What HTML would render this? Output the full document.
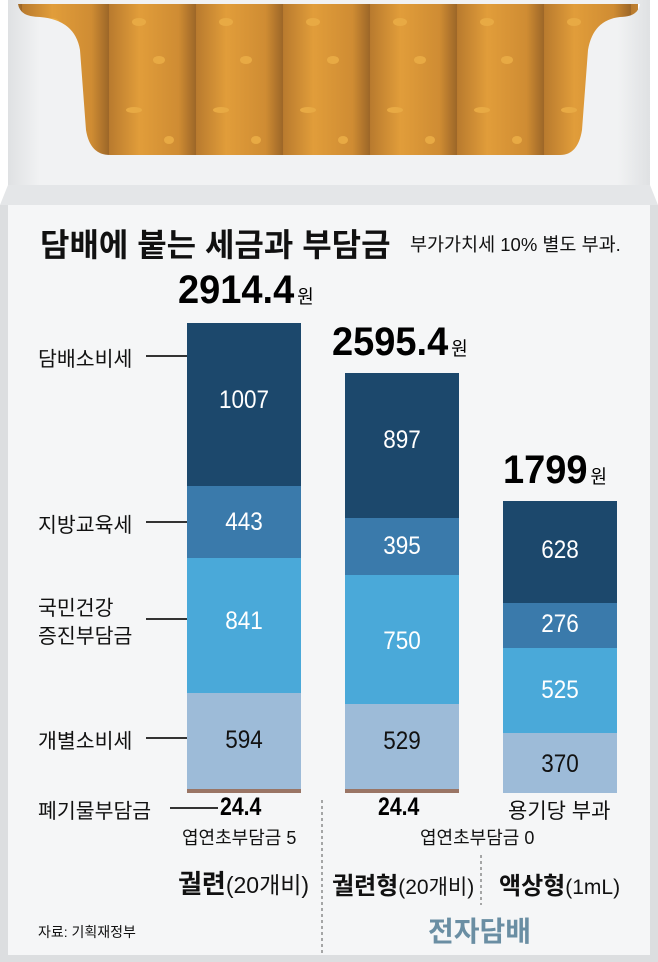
<!DOCTYPE html>
<html><head><meta charset="utf-8"><style>
body{margin:0;width:658px;height:962px;position:relative;overflow:hidden;background:#fff;font-family:"Liberation Sans","Noto Sans CJK KR",sans-serif}
.a{position:absolute;white-space:nowrap}
.bar{position:absolute;left:0;width:114px}
.v{position:absolute;width:114px;text-align:center;font-size:25px;transform:scaleX(.9)}
.lab{position:absolute;font-size:20.5px;color:#111}
.ln{position:absolute;height:1.5px;background:#333}
.tot{position:absolute;font-weight:bold;font-size:40px;transform:scaleX(.95);transform-origin:left;color:#000}
.tot span{font-size:19px;font-weight:normal;margin-left:3px}
</style></head><body>
<svg class="a" style="left:0;top:0" width="658" height="962">
<defs>
<linearGradient id="cg" x1="0" x2="1">
<stop offset="0" stop-color="#b87a2e"/><stop offset=".35" stop-color="#e19d3a"/><stop offset=".8" stop-color="#cf8c33"/><stop offset="1" stop-color="#9c6628"/>
</linearGradient>
<pattern id="cp" x="22" y="0" width="87" height="200" patternUnits="userSpaceOnUse"><rect width="87" height="200" fill="url(#cg)"/>
<ellipse cx="30" cy="22" rx="7" ry="4" fill="#e8aa44"/><ellipse cx="50" cy="60" rx="6" ry="4" fill="#e8aa44"/><ellipse cx="25" cy="110" rx="8" ry="3" fill="#e8aa44"/><ellipse cx="60" cy="140" rx="5" ry="4" fill="#e8aa44"/></pattern>
<linearGradient id="pk" x1="0" x2="1"><stop offset="0" stop-color="#dfe1e3"/><stop offset=".05" stop-color="#f1f2f3"/><stop offset=".95" stop-color="#f1f2f3"/><stop offset="1" stop-color="#dfe1e3"/></linearGradient>
</defs>
<rect x="18" y="3" width="620" height="160" fill="url(#cp)"/>
<path fill="url(#pk)" fill-rule="evenodd" d="M8 0H650V962H8Z M18 4 Q20 17 40 17 Q75 20 80 50 L86 130 Q90 155 110 155 H560 Q578 155 582 130 L588 50 Q593 20 620 17 Q638 17 640 4Z"/>
<rect x="0" y="205" width="658" height="757" fill="#f5f6f7"/>
<path d="M0 205 L8 185 H650 L658 205Z" fill="#e4e6e8"/>
<rect x="0" y="205" width="8" height="757" fill="#dcdee0"/><rect x="650" y="205" width="8" height="757" fill="#dcdee0"/>
<rect x="0" y="955" width="658" height="7" fill="#dcdee0"/>
<line x1="322" y1="800" x2="322" y2="955" stroke="#555" stroke-dasharray="3,3"/>
<line x1="481" y1="855" x2="481" y2="905" stroke="#555" stroke-dasharray="3,3"/>
</svg>
<div class="a" style="left:40px;top:220px;font-size:32px;font-weight:bold;color:#111">담배에 붙는 세금과 부담금</div>
<div class="a" style="left:410px;top:231px;font-size:18.5px;color:#111">부가가치세 10% 별도 부과.</div>

<div class="tot" style="left:178px;top:268px">2914.4<span>원</span></div>
<div class="tot" style="left:332px;top:320px">2595.4<span>원</span></div>
<div class="tot" style="left:503px;top:448px">1799<span>원</span></div>

<div class="a" style="left:187px;top:323px;width:114px;height:470px">
<div class="bar" style="top:0;height:163px;background:#1c486c"></div>
<div class="bar" style="top:163px;height:72px;background:#3a7aab"></div>
<div class="bar" style="top:235px;height:135px;background:#4aa9d9"></div>
<div class="bar" style="top:370px;height:96px;background:#9dbbd8"></div>
<div class="bar" style="top:466px;height:4px;background:#9a7565"></div>
<div class="v" style="top:63px;color:#fff">1007</div>
<div class="v" style="top:185px;color:#fff">443</div>
<div class="v" style="top:284px;color:#fff">841</div>
<div class="v" style="top:403px;color:#111">594</div>
</div>
<div class="a" style="left:345px;top:373px;width:114px;height:420px">
<div class="bar" style="top:0;height:145px;background:#1c486c"></div>
<div class="bar" style="top:145px;height:57px;background:#3a7aab"></div>
<div class="bar" style="top:202px;height:129px;background:#4aa9d9"></div>
<div class="bar" style="top:331px;height:85px;background:#9dbbd8"></div>
<div class="bar" style="top:416px;height:4px;background:#9a7565"></div>
<div class="v" style="top:53px;color:#fff">897</div>
<div class="v" style="top:159px;color:#fff">395</div>
<div class="v" style="top:254px;color:#fff">750</div>
<div class="v" style="top:354px;color:#111">529</div>
</div>
<div class="a" style="left:503px;top:501px;width:114px;height:292px">
<div class="bar" style="top:0;height:102px;background:#1c486c"></div>
<div class="bar" style="top:102px;height:45px;background:#3a7aab"></div>
<div class="bar" style="top:147px;height:85px;background:#4aa9d9"></div>
<div class="bar" style="top:232px;height:60px;background:#9dbbd8"></div>
<div class="v" style="top:35px;color:#fff">628</div>
<div class="v" style="top:109px;color:#fff">276</div>
<div class="v" style="top:175px;color:#fff">525</div>
<div class="v" style="top:249px;color:#111">370</div>
</div>

<div class="lab" style="left:38px;top:342px">담배소비세</div><div class="ln" style="left:146px;top:355px;width:41px"></div>
<div class="lab" style="left:38px;top:508px">지방교육세</div><div class="ln" style="left:146px;top:521px;width:41px"></div>
<div class="lab" style="left:38px;top:591px">국민건강</div>
<div class="lab" style="left:38px;top:619px">증진부담금</div><div class="ln" style="left:146px;top:618px;width:41px"></div>
<div class="lab" style="left:38px;top:724px">개별소비세</div><div class="ln" style="left:146px;top:737px;width:41px"></div>
<div class="lab" style="left:38px;top:794px">폐기물부담금</div><div class="ln" style="left:170px;top:807px;width:48px"></div>

<div class="a" style="left:220px;top:793px;font-size:25px;font-weight:bold;transform:scaleX(.85);transform-origin:left">24.4</div>
<div class="a" style="left:378px;top:793px;font-size:25px;font-weight:bold;transform:scaleX(.85);transform-origin:left">24.4</div>
<div class="a" style="left:508px;top:795px;font-size:21px;color:#111">용기당 부과</div>
<div class="a" style="left:182px;top:824px;font-size:18px;color:#111">엽연초부담금 5</div>
<div class="a" style="left:420px;top:824px;font-size:18px;color:#111">엽연초부담금 0</div>

<div class="a" style="left:178px;top:864px;font-size:23px;color:#111"><b style="font-size:26px">궐련</b>(20개비)</div>
<div class="a" style="left:332px;top:866px;font-size:21px;color:#111"><b style="font-size:24px">궐련형</b>(20개비)</div>
<div class="a" style="left:499px;top:866px;font-size:21px;color:#111"><b style="font-size:24px">액상형</b>(1mL)</div>
<div class="a" style="left:428px;top:910px;font-size:28px;font-weight:bold;color:#6a8ea3">전자담배</div>
<div class="a" style="left:38px;top:922px;font-size:14px;color:#111">자료: 기획재정부</div>
</body></html>
